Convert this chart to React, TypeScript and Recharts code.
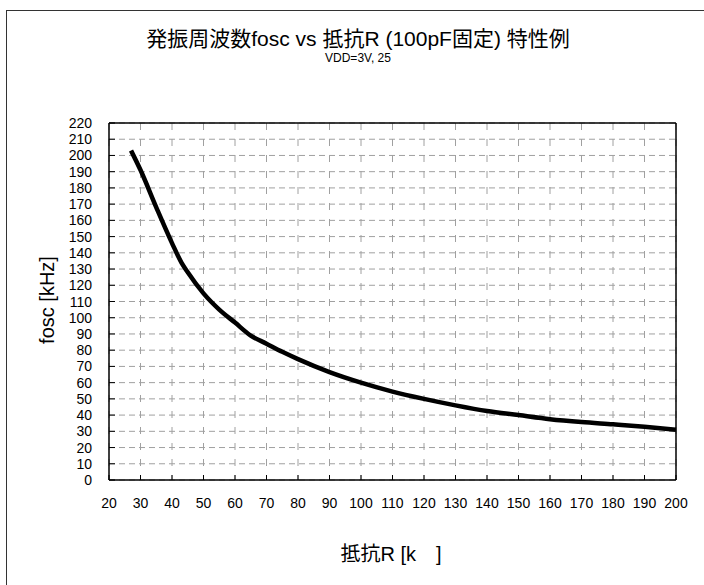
import React from "react";
import { LineChart, Line, XAxis, YAxis, CartesianGrid, ReferenceLine } from "recharts";

const resistanceK = [27, 30, 35, 40, 43, 45, 50, 55, 60, 65, 70, 75, 80, 90, 100, 110, 120, 130, 140, 150, 160, 170, 180, 190, 200];
const foscKHz = [203, 191, 168, 146, 134, 128, 115, 105, 97, 89, 84, 79, 74.5, 66.5, 60, 54.5, 50, 46, 42.5, 40, 37.5, 35.7, 34.3, 32.8, 31];
const xTicks = [20, 30, 40, 50, 60, 70, 80, 90, 100, 110, 120, 130, 140, 150, 160, 170, 180, 190, 200];
const yTicks = [0, 10, 20, 30, 40, 50, 60, 70, 80, 90, 100, 110, 120, 130, 140, 150, 160, 170, 180, 190, 200, 210, 220];

const titleText = "発振周波数fosc vs 抵抗R (100pF固定) 特性例";
const subtitleText = "VDD=3V, 25";
const xLabelText = "抵抗R [k\u2003]";
const yLabelText = "fosc [kHz]";

const data = resistanceK.map((r, i) => ({ r, f: foscKHz[i] }));

const FONT = "'Liberation Sans', Arial, 'Noto Sans CJK JP', sans-serif";

const XTick = (props: any) => {
  const { x, y, payload } = props;
  return (
    <g>
      <line x1={x} y1={y} x2={x} y2={y - 5} stroke="#000" strokeWidth={1} />
      <text x={x} y={y + 28} textAnchor="middle" fontSize={14} fontFamily={FONT} fill="#000">
        {payload.value}
      </text>
    </g>
  );
};

const YTick = (props: any) => {
  const { x, y, payload } = props;
  return (
    <g>
      <line x1={x} y1={y} x2={x + 6} y2={y} stroke="#000" strokeWidth={1} />
      <text x={x - 17} y={y} dy="0.36em" textAnchor="end" fontSize={14} fontFamily={FONT} fill="#000">
        {payload.value}
      </text>
    </g>
  );
};

export default function App() {
  return (
    <div style={{ position: "absolute", left: 0, top: 0, width: 704, height: 585, overflow: "hidden", background: "#fff", fontFamily: FONT }}>
      <div style={{ position: "absolute", left: 6, top: 10, width: 800, height: 700, borderLeft: "1.5px solid #333", borderTop: "1.5px solid #333" }} />
      <div style={{ position: "absolute", left: 0, width: 716, top: 27, lineHeight: "24px", textAlign: "center", fontSize: 21, color: "#000", whiteSpace: "nowrap" }}>{titleText}</div>
      <div style={{ position: "absolute", left: 0, width: 716, top: 51, lineHeight: "14px", textAlign: "center", fontSize: 12, color: "#000" }}>{subtitleText}</div>
      <div style={{ position: "absolute", left: 0, width: 782, top: 542, lineHeight: "24px", textAlign: "center", fontSize: 20, color: "#000", whiteSpace: "pre" }}>{xLabelText}</div>
      <div style={{ position: "absolute", left: 47, top: 300, width: 0, height: 0 }}>
        <div style={{ position: "absolute", left: -70, top: -12, width: 140, textAlign: "center", fontSize: 20, lineHeight: "24px", transform: "rotate(-90deg)", color: "#000", whiteSpace: "nowrap" }}>{yLabelText}</div>
      </div>
      <div style={{ position: "absolute", left: 0, top: 0 }}>
        <LineChart width={704} height={585} data={data} margin={{ top: 123, right: 28, bottom: 75, left: 49 }}>
          <CartesianGrid horizontal={true} vertical={false} stroke="#a0a0a0" strokeDasharray="6 4" />
          <CartesianGrid horizontal={false} vertical={true} stroke="#a0a0a0" strokeDasharray="7 9" />
          <XAxis
            dataKey="r"
            type="number"
            domain={[20, 200]}
            ticks={xTicks}
            interval={0}
            height={30}
            tickSize={0}
            tickMargin={0}
            tick={<XTick />}
            axisLine={{ stroke: "#000", strokeWidth: 1.5 }}
            tickLine={false}
            allowDataOverflow
          />
          <YAxis
            type="number"
            domain={[0, 220]}
            ticks={yTicks}
            interval={0}
            width={60}
            tickSize={0}
            tickMargin={0}
            tick={<YTick />}
            axisLine={{ stroke: "#000", strokeWidth: 1.5 }}
            tickLine={false}
            allowDataOverflow
          />
          <ReferenceLine y={220} stroke="#000" strokeWidth={1.5} />
          <ReferenceLine x={200} stroke="#000" strokeWidth={1.5} />
          <Line dataKey="f" type="monotone" stroke="#000" strokeWidth={4.5} dot={false} isAnimationActive={false} />
        </LineChart>
      </div>
    </div>
  );
}
